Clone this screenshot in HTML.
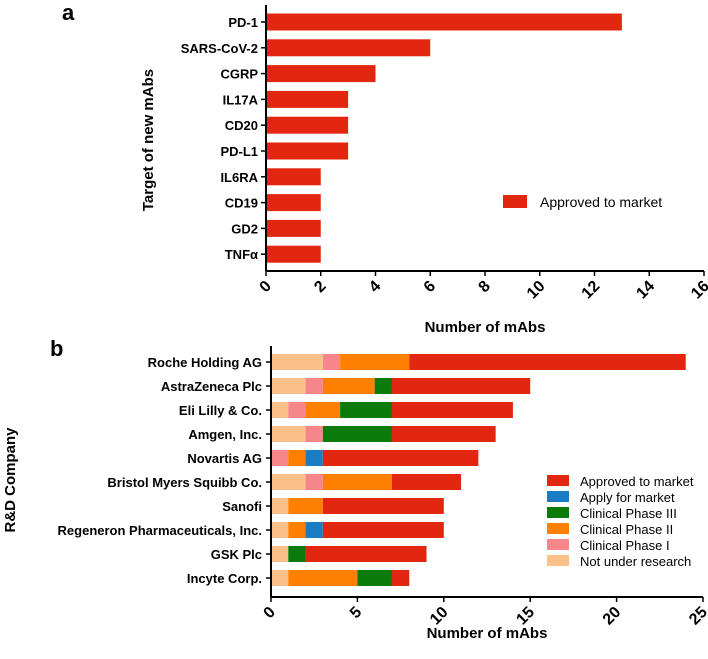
<!DOCTYPE html>
<html><head><meta charset="utf-8"><style>
body{margin:0;background:#fff}
svg{display:block;font-family:"Liberation Sans",Arial,sans-serif}
.lbl{font-weight:bold;font-size:13px}
.tick{font-weight:bold;font-size:16px}
.title{font-weight:bold;font-size:15px}
</style></head><body>
<svg id="chart" width="708" height="659" viewBox="0 0 708 659">
<text x="62" y="20" font-size="22" font-weight="bold">a</text>
<text x="50" y="356" font-size="22" font-weight="bold">b</text>
<g id="ga"></g>
<g id="gb"></g>
</svg>
<script>
const aCats=["PD-1","SARS-CoV-2","CGRP","IL17A","CD20","PD-L1","IL6RA","CD19","GD2","TNFα"];
const aVals=[13,6,4,3,3,3,2,2,2,2];
const aTicks=[0,2,4,6,8,10,12,14,16];
const bCats=["Roche Holding AG","AstraZeneca Plc","Eli Lilly & Co.","Amgen, Inc.","Novartis AG","Bristol Myers Squibb Co.","Sanofi","Regeneron Pharmaceuticals, Inc.","GSK Plc","Incyte Corp."];
const bNotResearch=[3,2,1,2,0,2,1,1,1,1];
const bPhase1=[1,1,1,1,1,1,0,0,0,0];
const bPhase2=[4,3,2,0,1,4,2,1,0,4];
const bPhase3=[0,1,3,4,0,0,0,0,1,2];
const bApply=[0,0,0,0,1,0,0,1,0,0];
const bApproved=[16,8,7,6,9,4,7,7,7,1];
const bTicks=[0,5,10,15,20,25];
const NS="http://www.w3.org/2000/svg";
function mk(p,t,a,txt){const e=document.createElementNS(NS,t);for(const k in a)e.setAttribute(k,a[k]);if(txt!=null)e.textContent=txt;p.appendChild(e);return e;}
const RED="#e3260f";
const ga=document.getElementById('ga');
const ax0=266,ax1=704,aMax=16,ay0=22,aStep=25.8,aH=17,aAxisY=271;
const xa=v=>ax0+(ax1-ax0)*v/aMax;
aCats.forEach((c,i)=>{const y=ay0+i*aStep;
 const r=mk(ga,'rect',{x:xa(0),y:y-aH/2,width:xa(aVals[i])-xa(0),height:aH,fill:RED});
 
 
 mk(ga,'line',{x1:ax0-5,x2:ax0,y1:y,y2:y,stroke:'#000','stroke-width':1.5});
 const t=mk(ga,'text',{x:ax0-8,y:y+5,'text-anchor':'end',class:'lbl'},c);
 
 
});
mk(ga,'line',{x1:ax0,x2:ax0,y1:5,y2:aAxisY,stroke:'#000','stroke-width':2});
mk(ga,'line',{x1:ax0,x2:ax1,y1:aAxisY,y2:aAxisY,stroke:'#000','stroke-width':2});
aTicks.forEach(v=>{const x=xa(v);
 mk(ga,'line',{x1:x,x2:x,y1:aAxisY,y2:aAxisY+5,stroke:'#000','stroke-width':1.5});
 const t=mk(ga,'text',{x:x+6,y:aAxisY+16,'text-anchor':'end',class:'tick',transform:`rotate(-45 ${x+6} ${aAxisY+16})`},v);
 
 
});
const at=mk(ga,'text',{x:485,y:332,'text-anchor':'middle',class:'title'},'Number of mAbs');


const ayt=mk(ga,'text',{x:0,y:0,'text-anchor':'middle',class:'title',transform:'translate(153,140) rotate(-90)'},'Target of new mAbs');


mk(ga,'rect',{x:503,y:195,width:24,height:13,fill:RED});
const al=mk(ga,'text',{x:540,y:207,'font-size':14},'Approved to market');


const gb=document.getElementById('gb');
const bx0=271,bx1=703,bMax=25,by0=362,bStep=24,bH=16,bAxisY=597;
const xb=v=>bx0+(bx1-bx0)*v/bMax;
const series=[["Not under research",bNotResearch,"#fcc08a"],["Clinical Phase I",bPhase1,"#f7868a"],["Clinical Phase II",bPhase2,"#ff7f00"],["Clinical Phase III",bPhase3,"#0a7a0a"],["Apply for market",bApply,"#1a7dc4"],["Approved to market",bApproved,RED]];
bCats.forEach((c,i)=>{const y=by0+i*bStep;let acc=0;
 series.forEach(s=>{const v=s[1][i];if(v>0){
  const r=mk(gb,'rect',{x:xb(acc),y:y-bH/2,width:xb(acc+v)-xb(acc),height:bH,fill:s[2]});
  
  
 }acc+=v;});
 mk(gb,'line',{x1:bx0-5,x2:bx0,y1:y,y2:y,stroke:'#000','stroke-width':1.5});
 const t=mk(gb,'text',{x:bx0-9,y:y+5,'text-anchor':'end',class:'lbl'},c);
 
 
});
mk(gb,'line',{x1:bx0,x2:bx0,y1:346,y2:bAxisY,stroke:'#000','stroke-width':2});
mk(gb,'line',{x1:bx0,x2:bx1,y1:bAxisY,y2:bAxisY,stroke:'#000','stroke-width':2});
bTicks.forEach(v=>{const x=xb(v);
 mk(gb,'line',{x1:x,x2:x,y1:bAxisY,y2:bAxisY+5,stroke:'#000','stroke-width':1.5});
 const t=mk(gb,'text',{x:x+5,y:bAxisY+16,'text-anchor':'end',class:'tick',transform:`rotate(-45 ${x+5} ${bAxisY+16})`},v);
 
 
});
const bt=mk(gb,'text',{x:487,y:638,'text-anchor':'middle',class:'title'},'Number of mAbs');


const byt=mk(gb,'text',{x:0,y:0,'text-anchor':'middle',class:'title',transform:'translate(15,480) rotate(-90)'},'R&D Company');


const legOrder=[5,4,3,2,1,0];
legOrder.forEach((si,k)=>{const y=481+k*16;
 mk(gb,'rect',{x:547,y:y-6,width:22,height:11,fill:series[si][2]});
 const t=mk(gb,'text',{x:580,y:y+5,'font-size':13},series[si][0]);
 
 
});
</script>
</body></html>
